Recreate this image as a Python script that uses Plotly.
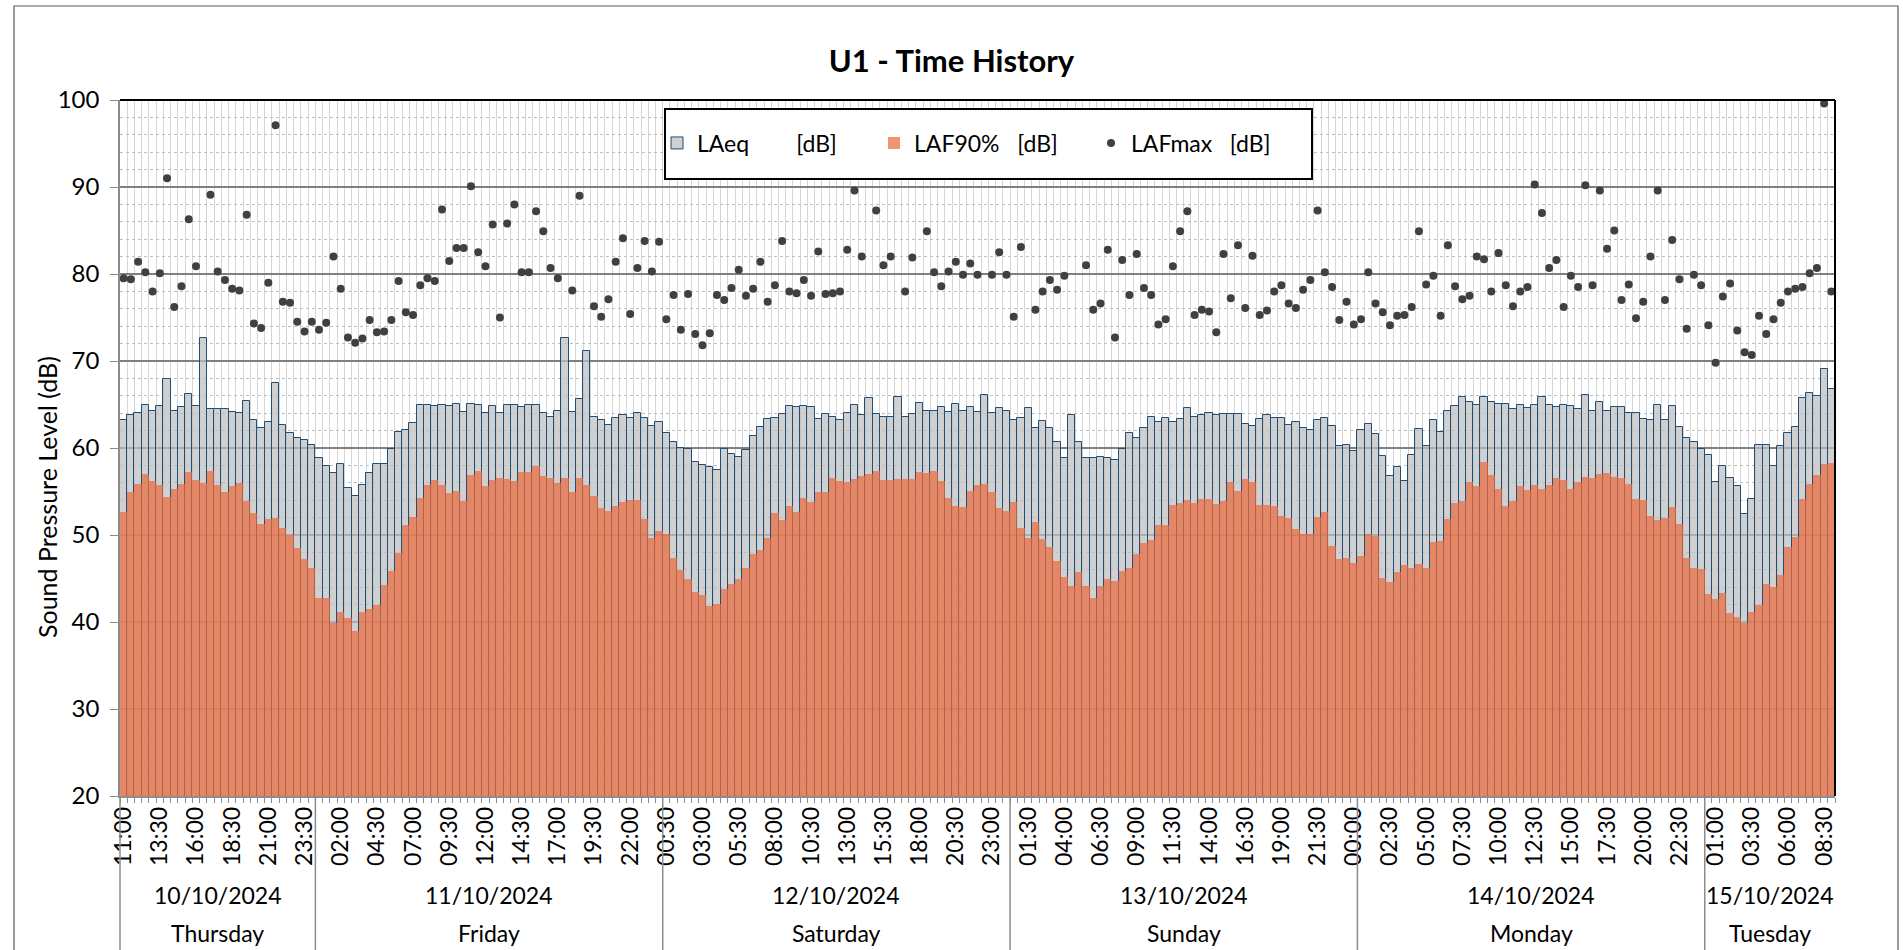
import plotly.graph_objects as go

# ---------------- data ----------------
LAEQ = [
    63.2, 63.8, 64.0, 64.9, 64.3, 64.8, 67.9, 64.2, 64.7, 66.2,
    64.8, 72.6, 64.5, 64.5, 64.5, 64.1, 64.0, 65.4, 63.2, 62.3,
    63.0, 67.5, 62.6, 61.7, 61.2, 60.9, 60.3, 58.8, 57.9, 57.1,
    58.2, 55.4, 54.5, 55.7, 57.1, 58.2, 58.2, 59.9, 61.8, 62.1,
    62.9, 64.9, 64.9, 64.8, 64.9, 64.8, 65.1, 64.1, 65.1, 64.9,
    64.0, 64.8, 64.0, 65.0, 64.9, 64.7, 64.9, 65.0, 64.0, 63.6,
    64.3, 72.6, 64.1, 65.6, 71.1, 63.6, 63.2, 62.7, 63.4, 63.8,
    63.4, 64.0, 63.4, 62.5, 63.0, 61.7, 60.7, 60.0, 59.9, 58.4,
    58.1, 57.8, 57.5, 59.9, 59.3, 59.0, 59.8, 61.4, 62.4, 63.3,
    63.4, 63.9, 64.8, 64.7, 64.8, 64.7, 63.3, 63.9, 63.6, 63.2,
    64.0, 64.9, 63.8, 65.7, 63.9, 63.6, 63.6, 65.9, 63.6, 63.9,
    65.2, 64.3, 64.3, 64.7, 64.1, 65.1, 64.2, 64.7, 64.1, 66.1,
    64.0, 64.6, 64.2, 63.2, 63.4, 64.6, 62.3, 63.1, 62.3, 60.7,
    58.8, 63.8, 60.7, 58.9, 58.9, 59.0, 58.9, 58.6, 59.9, 61.7,
    61.2, 62.3, 63.6, 63.0, 63.4, 63.0, 63.3, 64.6, 63.6, 63.8,
    64.0, 63.8, 63.9, 63.9, 63.9, 62.8, 62.5, 63.3, 63.8, 63.4,
    63.4, 62.7, 63.0, 62.3, 62.1, 63.2, 63.4, 62.5, 60.2, 60.3,
    59.7, 62.1, 62.8, 61.6, 59.1, 56.8, 57.8, 56.2, 59.2, 62.2,
    60.2, 63.2, 61.8, 64.3, 64.8, 65.9, 65.3, 65.0, 65.9, 65.3,
    65.1, 65.1, 64.5, 65.0, 64.6, 65.0, 65.9, 64.9, 64.7, 65.0,
    64.8, 64.5, 66.1, 64.2, 65.3, 64.3, 64.7, 64.7, 64.0, 64.0,
    63.3, 63.2, 65.0, 63.2, 64.8, 62.4, 61.1, 60.7, 59.9, 59.2,
    56.1, 57.9, 56.6, 55.6, 52.4, 54.1, 60.3, 60.3, 57.9, 60.2,
    61.7, 62.4, 65.7, 66.3, 66.0, 69.1, 66.8,
]

LAF90 = [
    52.6, 55.0, 55.9, 57.0, 56.2, 55.7, 54.4, 55.3, 55.9, 57.2,
    56.3, 56.0, 57.4, 55.7, 55.0, 55.6, 56.0, 53.9, 52.5, 51.3,
    51.8, 52.0, 50.8, 50.0, 48.5, 47.2, 46.2, 42.8, 42.8, 39.9,
    41.1, 40.5, 39.0, 41.2, 41.5, 41.9, 44.3, 45.9, 47.9, 51.1,
    52.1, 54.3, 55.7, 56.3, 55.7, 54.8, 55.1, 53.9, 56.9, 57.3,
    55.6, 56.3, 56.6, 56.4, 56.2, 57.2, 57.2, 57.9, 56.8, 56.6,
    56.0, 56.6, 55.0, 56.6, 55.8, 54.5, 53.1, 52.8, 53.3, 53.8,
    54.0, 54.0, 51.8, 49.6, 50.5, 50.1, 47.4, 46.0, 44.9, 43.5,
    43.1, 41.8, 42.1, 43.8, 44.4, 45.0, 46.2, 47.8, 48.3, 49.6,
    52.5, 51.7, 53.3, 52.6, 54.2, 53.8, 55.0, 54.9, 56.5, 56.2,
    56.1, 56.4, 56.8, 57.0, 57.3, 56.3, 56.3, 56.4, 56.4, 56.4,
    57.2, 57.1, 57.3, 56.2, 54.3, 53.3, 53.2, 55.1, 55.7, 55.9,
    54.9, 53.1, 52.8, 53.8, 50.8, 49.6, 51.5, 49.5, 48.6, 47.0,
    45.2, 44.1, 45.7, 44.1, 42.8, 44.1, 45.0, 44.7, 45.9, 46.2,
    47.8, 49.1, 49.4, 51.1, 51.1, 53.4, 53.7, 54.0, 53.7, 54.1,
    54.1, 53.6, 53.9, 56.1, 55.1, 56.4, 56.1, 53.4, 53.4, 53.3,
    52.2, 52.0, 50.7, 50.1, 50.1, 52.1, 52.7, 48.7, 47.2, 47.4,
    46.8, 47.6, 50.1, 49.9, 45.1, 44.6, 45.7, 46.5, 46.2, 46.7,
    46.2, 49.2, 49.3, 51.8, 53.7, 53.9, 56.1, 55.6, 58.4, 56.9,
    55.3, 53.3, 53.9, 55.6, 55.2, 55.7, 55.3, 55.7, 56.6, 56.3,
    55.3, 56.1, 56.7, 56.6, 57.0, 57.1, 56.7, 56.5, 55.9, 54.1,
    54.0, 52.2, 51.7, 52.0, 53.2, 51.3, 47.4, 46.2, 46.1, 43.2,
    42.7, 43.3, 41.0, 40.6, 39.9, 41.1, 42.0, 44.4, 44.0, 45.4,
    48.6, 49.8, 54.1, 55.9, 56.9, 58.2, 58.3,
]

# None = point not visible in the reference (above the axis or under the legend)
LAFMAX = [
    79.5, 79.4, 81.4, 80.2, 78.0, 80.1, 91.0, 76.2, 78.6, 86.3,
    80.9, None, 89.1, 80.3, 79.3, 78.3, 78.1, 86.8, 74.3, 73.8,
    79.0, 97.1, 76.8, 76.7, 74.5, 73.4, 74.5, 73.6, 74.4, 82.0,
    78.3, 72.7, 72.1, 72.6, 74.7, 73.3, 73.4, 74.7, 79.2, 75.6,
    75.3, 78.7, 79.5, 79.2, 87.4, 81.5, 83.0, 83.0, 90.1, 82.5,
    80.9, 85.7, 75.0, 85.8, 88.0, 80.2, 80.2, 87.2, 84.9, 80.7,
    79.5, None, 78.1, 89.0, None, 76.3, 75.1, 77.1, 81.4, 84.1,
    75.4, 80.7, 83.8, 80.3, 83.7, 74.8, 77.6, 73.6, 77.7, 73.1,
    71.8, 73.2, 77.6, 77.0, 78.4, 80.5, 77.5, 78.3, 81.4, 76.8,
    78.7, 83.8, 78.0, 77.8, 79.3, 77.5, 82.6, 77.7, 77.8, 78.0,
    82.8, 89.6, 82.0, None, 87.3, 81.0, 82.0, None, 78.0, 81.9,
    None, 84.9, 80.2, 78.6, 80.3, 81.4, 79.9, 81.2, 79.9, None,
    79.9, 82.5, 79.9, 75.1, 83.1, None, 75.9, 78.0, 79.3, 78.2,
    79.8, None, None, 81.0, 75.9, 76.6, 82.8, 72.7, 81.6, 77.6,
    82.3, 78.4, 77.6, 74.2, 74.8, 80.9, 84.9, 87.2, 75.3, 75.9,
    75.7, 73.3, 82.3, 77.2, 83.3, 76.1, 82.1, 75.3, 75.8, 78.0,
    78.7, 76.6, 76.1, 78.2, 79.3, 87.3, 80.2, 78.5, 74.7, 76.8,
    74.2, 74.8, 80.2, 76.6, 75.6, 74.1, 75.2, 75.3, 76.2, 84.9,
    78.8, 79.8, 75.2, 83.3, 78.6, 77.1, 77.5, 82.0, 81.7, 78.0,
    82.4, 78.7, 76.3, 78.0, 78.5, 90.3, 87.0, 80.7, 81.6, 76.2,
    79.8, 78.5, 90.2, 78.7, 89.6, 82.9, 85.0, 77.0, 78.8, 74.9,
    76.8, 82.0, 89.6, 77.0, 83.9, 79.4, 73.7, 79.9, 78.7, 74.1,
    69.8, 77.4, 78.9, 73.5, 71.0, 70.7, 75.2, 73.1, 74.8, 76.7,
    78.0, 78.3, 78.5, 80.1, 80.7, 99.6, 78.0,
]

TIME_TICKS = [
    "11:00", "13:30", "16:00", "18:30", "21:00", "23:30",
    "02:00", "04:30", "07:00", "09:30", "12:00", "14:30", "17:00", "19:30", "22:00",
    "00:30", "03:00", "05:30", "08:00", "10:30", "13:00", "15:30", "18:00", "20:30", "23:00",
    "01:30", "04:00", "06:30", "09:00", "11:30", "14:00", "16:30", "19:00", "21:30",
    "00:00", "02:30", "05:00", "07:30", "10:00", "12:30", "15:00", "17:30", "20:00", "22:30",
    "01:00", "03:30", "06:00", "08:30",
]
DATES = ["10/10/2024", "11/10/2024", "12/10/2024", "13/10/2024", "14/10/2024", "15/10/2024"]
WEEKDAYS = ["Thursday", "Friday", "Saturday", "Sunday", "Monday", "Tuesday"]
DAY_COUNTS = [27, 48, 48, 48, 48, 18]

SERIES_NAMES = ["LAeq" + "\u00a0" * 8 + "[dB]",
                "LAF90%" + "\u00a0" * 3 + "[dB]",
                "LAFmax" + "\u00a0" * 3 + "[dB]"]

# ---------------- geometry ----------------
W, H = 1903, 950
ML, MR, MT, MB = 120, 68, 100, 154
PW, PH = W - ML - MR, H - MT - MB


def pxx(px):
    return (px - ML) / PW


def pxy(py):
    return (H - MB - py) / PH


FONT = "Lato, 'Open Sans', sans-serif"
N = len(LAEQ)
X = list(range(N))
TICK_STEP = 5

fig = go.Figure()
fig.add_trace(go.Bar(
    x=X, y=LAEQ, name=SERIES_NAMES[0],
    marker=dict(color="rgba(190,190,190,0.72)", line=dict(color="#1F4E79", width=1)),
))
fig.add_trace(go.Bar(
    x=X, y=LAF90, name=SERIES_NAMES[1],
    marker=dict(color="rgba(235,107,62,0.72)", line=dict(width=0)),
))
fig.add_trace(go.Scatter(
    x=X, y=LAFMAX, name=SERIES_NAMES[2], mode="markers",
    marker=dict(color="#404040", size=8),
))

# group starts from counts
starts = []
acc = 0
for c in DAY_COUNTS:
    starts.append(acc)
    acc += c

shapes = []
annotations = []
for i, (s, c) in enumerate(zip(starts, DAY_COUNTS)):
    xb = s / N  # paper position of the group boundary
    shapes.append(dict(type="line", xref="paper", yref="paper",
                       x0=xb, x1=xb, y0=0, y1=pxy(980),
                       line=dict(color="#8C8C8C", width=1.5)))
    centre = s + (c - 1) / 2
    annotations.append(dict(x=centre, xref="x", y=pxy(895), yref="paper",
                            text=DATES[i], showarrow=False,
                            font=dict(family=FONT, size=23, color="#000000"),
                            xanchor="center", yanchor="middle"))
    annotations.append(dict(x=centre, xref="x", y=pxy(933), yref="paper",
                            text=WEEKDAYS[i], showarrow=False,
                            font=dict(family=FONT, size=23, color="#000000"),
                            xanchor="center", yanchor="middle"))

# plot-area top and right border
shapes.append(dict(type="line", xref="paper", yref="paper", x0=0, x1=1, y0=1, y1=1,
                   line=dict(color="#000000", width=2)))
shapes.append(dict(type="line", xref="paper", yref="paper", x0=1, x1=1, y0=0, y1=1,
                   line=dict(color="#000000", width=2)))
# legend box
shapes.append(dict(type="rect", xref="paper", yref="paper",
                   x0=pxx(665), x1=pxx(1312), y0=pxy(179), y1=pxy(109),
                   fillcolor="white", line=dict(color="#000000", width=2), layer="above"))
# outer chart border
shapes.append(dict(type="rect", xref="paper", yref="paper",
                   x0=pxx(14), x1=pxx(1898), y0=pxy(990), y1=pxy(6),
                   fillcolor="rgba(0,0,0,0)", line=dict(color="#595959", width=1.2)))

# y-axis title
annotations.append(dict(text="Sound Pressure Level (dB)", xref="paper", yref="paper",
                        x=pxx(47), y=pxy(497), textangle=-90, showarrow=False,
                        xanchor="center", yanchor="middle",
                        font=dict(family=FONT, size=25, color="#000000")))

fig.update_layout(
    width=W, height=H,
    margin=dict(l=ML, r=MR, t=MT, b=MB, pad=0),
    paper_bgcolor="white", plot_bgcolor="white",
    barmode="overlay", bargap=0,
    font=dict(family=FONT, color="#000000"),
    title=dict(text="<b>U1 - Time History</b>", x=0.5, xanchor="center",
               y=1 - 61 / H, yanchor="middle",
               font=dict(family=FONT, size=31, color="#000000")),
    showlegend=True,
    legend=dict(orientation="h", x=pxx(657), xanchor="left", y=pxy(143), yanchor="middle",
                bgcolor="rgba(0,0,0,0)", borderwidth=0,
                font=dict(family=FONT, size=23, color="#000000"),
                itemwidth=30, traceorder="normal",
                entrywidth=172, entrywidthmode="pixels"),
    shapes=shapes,
    annotations=annotations,
    xaxis=dict(
        range=[-0.5, N - 0.5], tickmode="array",
        tickvals=X[::TICK_STEP], ticktext=TIME_TICKS,
        tickangle=-90, ticks="", showgrid=False, zeroline=False,
        tickfont=dict(family=FONT, size=23, color="#000000"),
        showline=True, linecolor="#8C8C8C", linewidth=1.5,
        minor=dict(tick0=-0.5, dtick=1, ticks="outside", ticklen=5,
                   tickcolor="#8C8C8C", tickwidth=1,
                   showgrid=True, gridcolor="#D6D6D6", gridwidth=1),
    ),
    yaxis=dict(
        range=[20, 100], tickmode="linear", tick0=20, dtick=10,
        showgrid=True, gridcolor="#7F7F7F", gridwidth=1.5, zeroline=False,
        ticks="outside", ticklen=8, tickcolor="#8C8C8C",
        tickfont=dict(family=FONT, size=24, color="#000000"),
        ticklabelstandoff=6,
        showline=True, linecolor="#8C8C8C", linewidth=1.5,
        minor=dict(dtick=2, showgrid=True, gridcolor="#BFBFBF", griddash="dot", gridwidth=1),
    ),
)

fig.write_html("out.html", config={"displayModeBar": False},
               post_script="document.body.style.margin='0';document.body.style.overflow='hidden';")
